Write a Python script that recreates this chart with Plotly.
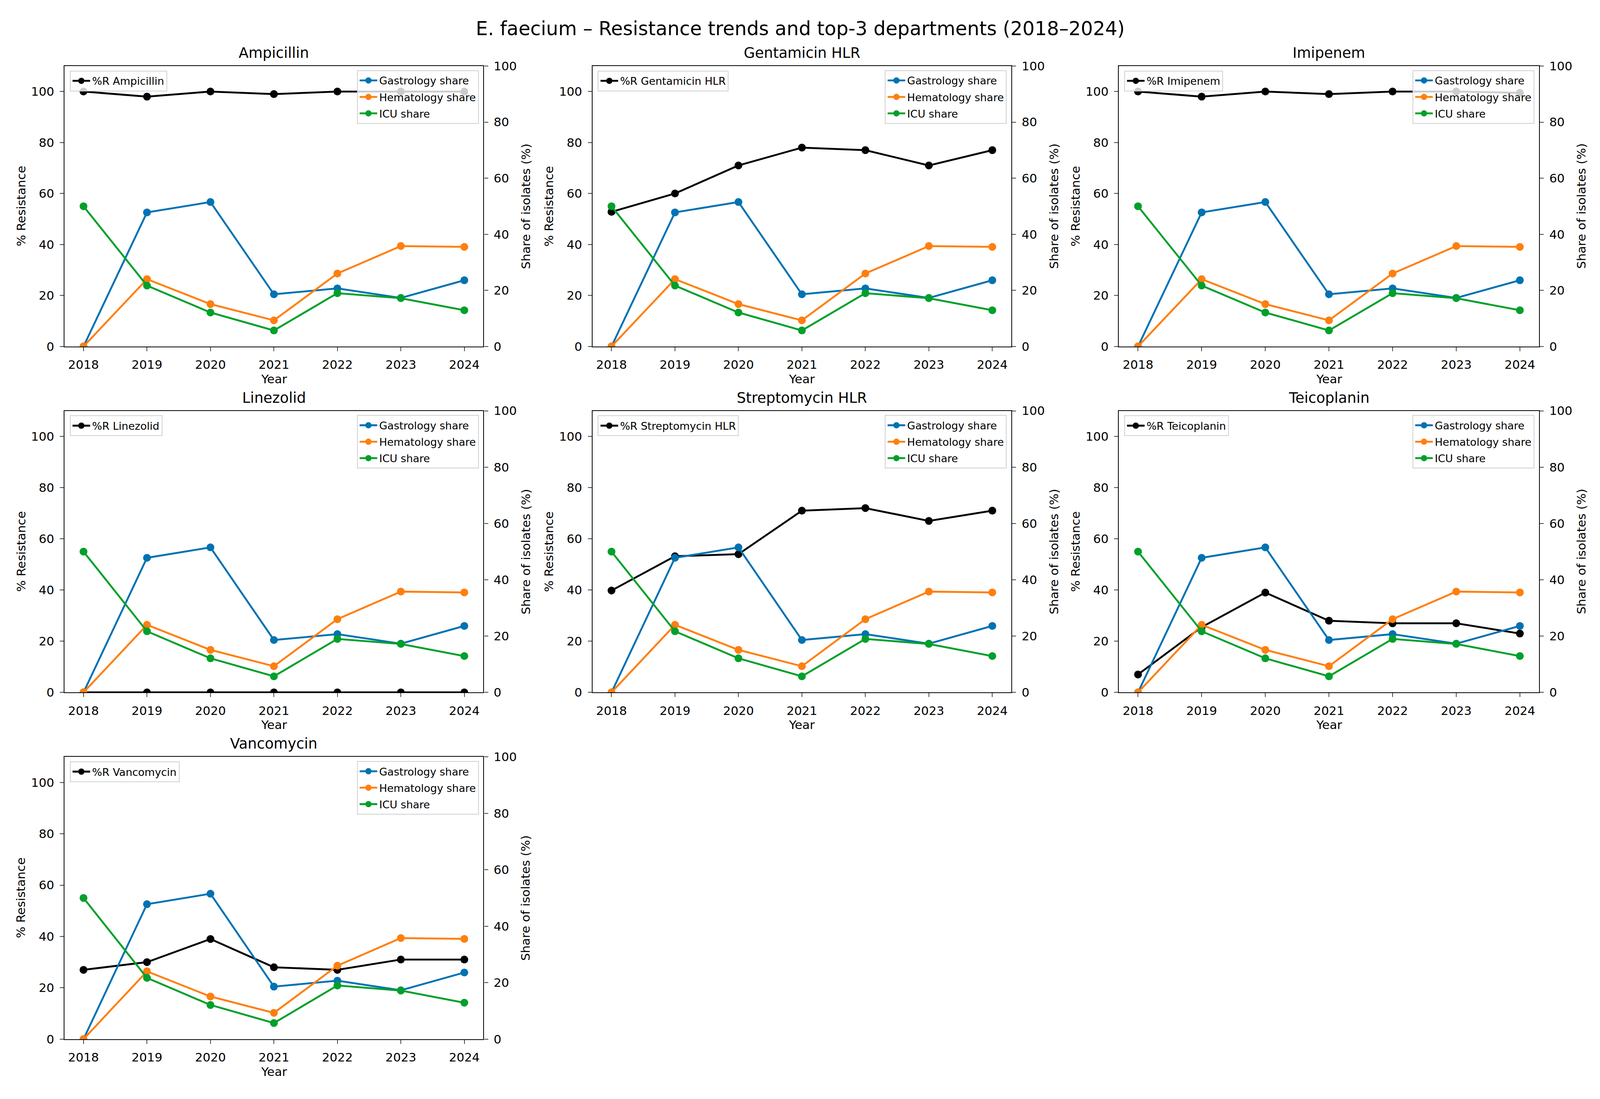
import plotly.graph_objects as go

years = [2018, 2019, 2020, 2021, 2022, 2023, 2024]

antibiotics = ["Ampicillin", "Gentamicin HLR", "Imipenem", "Linezolid",
               "Streptomycin HLR", "Teicoplanin", "Vancomycin"]

r_ampicillin = [100, 98, 100, 99, 100, 100, 100]
r_gentamicin_hlr = [52.8, 60, 71, 78, 77, 71, 77]
r_imipenem = [100, 98, 100, 99, 100, 100, 99.5]
r_linezolid = [0, 0, 0, 0, 0, 0, 0]
r_streptomycin_hlr = [39.8, 53.2, 54, 71, 72, 67, 71]
r_teicoplanin = [7, 25.5, 39, 28, 27, 27, 23]
r_vancomycin = [27, 30, 39, 28, 27, 31, 31]

resistance = [r_ampicillin, r_gentamicin_hlr, r_imipenem, r_linezolid,
              r_streptomycin_hlr, r_teicoplanin, r_vancomycin]

departments = ["Gastrology share", "Hematology share", "ICU share"]
gastrology_share = [0, 47.8, 51.5, 18.6, 20.7, 17.3, 23.6]
hematology_share = [0, 24.0, 15.1, 9.3, 26.0, 35.8, 35.5]
icu_share = [50.0, 21.7, 12.1, 5.7, 19.0, 17.2, 12.9]
shares = [gastrology_share, hematology_share, icu_share]

dept_colors = ["#0072B2", "#FF7F0E", "#00A02A"]

# reference geometry (pixels of a 4194 x 2813 canvas), converted to fractions
W, H = 4194, 2813
col_px = [(169, 1267), (1553, 2651), (2933, 4034)]
row_px = [(153, 880), (1047, 1777), (1944, 2676)]

FONT = "DejaVu Sans"
TICK = 31
fig = go.Figure()
layout = dict(
    autosize=True, margin=dict(l=0, r=0, t=0, b=0, pad=0),
    paper_bgcolor="white", plot_bgcolor="white",
    font=dict(family=FONT, color="black", size=TICK),
    showlegend=True,
)
annotations = []

for i, ab in enumerate(antibiotics):
    r, c = divmod(i, 3)
    x0, x1 = col_px[c]
    y0, y1 = row_px[r]
    xd = [x0 / W, x1 / W]
    yd = [1 - y1 / H, 1 - y0 / H]
    n = i + 1
    xa = "x" if n == 1 else f"x{n}"
    ya_l = f"y{2*n-1}" if n > 1 else "y"
    ya_r = f"y{2*n}"
    xkey = "xaxis" if n == 1 else f"xaxis{n}"
    ylkey = "yaxis" if n == 1 else f"yaxis{2*n-1}"
    yrkey = f"yaxis{2*n}"
    leg_l = "legend" if n == 1 else f"legend{2*n-1}"
    leg_r = f"legend{2*n}"

    layout[xkey] = dict(domain=xd, anchor=ya_l, range=[2017.7, 2024.3],
                        tickmode="array", tickvals=years,
                        ticktext=[str(y) for y in years],
                        ticks="outside", ticklen=10, tickwidth=2.4,
                        showline=True, linecolor="black", linewidth=2.4,
                        mirror=True, showgrid=False, zeroline=False,
                        ticklabelstandoff=8,
                        tickfont=dict(size=TICK))
    layout[ylkey] = dict(domain=yd, anchor=xa, range=[0, 110],
                         tickvals=[0, 20, 40, 60, 80, 100],
                         ticks="outside", ticklen=10, tickwidth=2.4,
                         showline=True, linecolor="black", linewidth=2.4,
                         mirror=True, showgrid=False, zeroline=False,
                         ticklabelstandoff=8, tickfont=dict(size=TICK))
    layout[yrkey] = dict(domain=yd, anchor=xa, overlaying=ya_l, side="right",
                         range=[0, 100], tickvals=[0, 20, 40, 60, 80, 100],
                         ticks="outside", ticklen=10, tickwidth=2.4,
                         showline=True, linecolor="black", linewidth=2.4,
                         showgrid=False, zeroline=False,
                         ticklabelstandoff=8, tickfont=dict(size=TICK))

    fig.add_trace(go.Scatter(
        x=years, y=resistance[i], mode="lines+markers", name=f"%R {ab}",
        line=dict(color="black", width=4.8), marker=dict(size=20, color="black"),
        xaxis=xa, yaxis=ya_l, legend=leg_l, legendgroup=f"r{n}"))
    for d, dep in enumerate(departments):
        fig.add_trace(go.Scatter(
            x=years, y=shares[d], mode="lines+markers", name=dep,
            line=dict(color=dept_colors[d], width=4.8),
            marker=dict(size=20, color=dept_colors[d]),
            xaxis=xa, yaxis=ya_r, legend=leg_r, legendgroup=f"s{n}_{d}"))

    legstyle = dict(bgcolor="rgba(255,255,255,0.8)", bordercolor="#d0d0d0",
                    borderwidth=2, font=dict(family=FONT, size=27),
                    itemwidth=45, tracegroupgap=4)
    layout[leg_l] = dict(x=(x0 + 14) / W, y=1 - (y0 + 12) / H,
                         xanchor="left", yanchor="top", **legstyle)
    layout[leg_r] = dict(x=(x1 - 12) / W, y=1 - (y0 + 11) / H,
                         xanchor="right", yanchor="top", **legstyle)

    cx = (x0 + x1) / 2 / W
    annotations.append(dict(text=ab, x=cx, y=1 - y0 / H, xref="paper", yref="paper",
                            xanchor="center", yanchor="bottom", yshift=10,
                            showarrow=False, font=dict(size=37)))
    annotations.append(dict(text="Year", x=cx, y=1 - (y1 + 84) / H, xref="paper",
                            yref="paper", xanchor="center", yanchor="middle",
                            showarrow=False, font=dict(size=TICK)))
    cy = 1 - (y0 + y1) / 2 / H
    annotations.append(dict(text="% Resistance", x=(x0 - 114) / W, y=cy,
                            xref="paper", yref="paper", xanchor="center",
                            yanchor="middle", textangle=-90, showarrow=False,
                            font=dict(size=TICK)))
    annotations.append(dict(text="Share of isolates (%)", x=(x1 + 111) / W, y=cy,
                            xref="paper", yref="paper", xanchor="center",
                            yanchor="middle", textangle=-90, showarrow=False,
                            font=dict(size=TICK)))

annotations.append(dict(text="E. faecium – Resistance trends and top-3 departments (2018–2024)",
                        x=0.5, y=1 - 56 / H, xref="paper", yref="paper",
                        xanchor="center", yanchor="middle", showarrow=False,
                        font=dict(size=49)))
layout["annotations"] = annotations
fig.update_layout(**layout)

post = ("document.documentElement.style.margin='0';"
        "document.body.style.margin='0';document.body.style.overflow='hidden';"
        "var gd=document.getElementById('{plot_id}');"
        "gd.style.width='100vw';gd.style.height='100vh';"
        "Plotly.Plots.resize(gd);")
fig.write_html("out.html", default_width="100vw", default_height="100vh",
               config={"responsive": True, "displayModeBar": False},
               post_script=post)
